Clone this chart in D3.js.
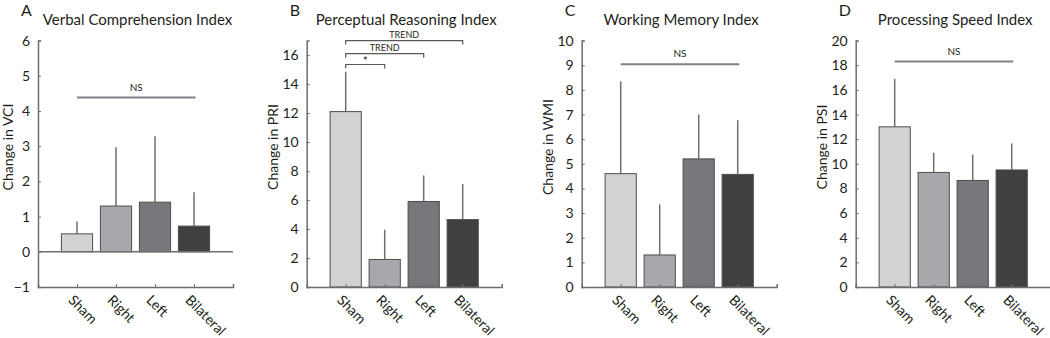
<!DOCTYPE html>
<html>
<head>
<meta charset="utf-8">
<script src="https://cdn.jsdelivr.net/npm/d3@7"></script>
<style>
  body { margin: 0; background: #fff; }
  text { font-family: Lato, "Open Sans", sans-serif; fill: #231f20; }
</style>
</head>
<body>
<div id="chart"></div>
<script>
// groups shared by all four panels
var groups = ["Sham", "Right", "Left", "Bilateral"];
var barColors = ["#d1d2d4", "#a7a8ab", "#77787b", "#404041"];

// means and tops of the error bars
var vciMean = [0.51, 1.30, 1.41, 0.73];
var vciTop  = [0.86, 2.97, 3.28, 1.69];
var priMean = [12.1, 1.9, 5.9, 4.65];
var priTop  = [14.85, 3.95, 7.7, 7.1];
var wmiMean = [4.6, 1.3, 5.2, 4.57];
var wmiTop  = [8.35, 3.35, 7.0, 6.77];
var psiMean = [13.0, 9.3, 8.65, 9.5];
var psiTop  = [16.9, 10.9, 10.75, 11.65];

// tick values
var vciTicks = [-1, 0, 1, 2, 3, 4, 5, 6];
var priTicks = [0, 2, 4, 6, 8, 10, 12, 14, 16];
var wmiTicks = [0, 1, 2, 3, 4, 5, 6, 7, 8, 9, 10];
var psiTicks = [0, 2, 4, 6, 8, 10, 12, 14, 16, 18, 20];

// significance marks: [from group, to group, level, label]
var priBrackets = [[1, 2, 15.35, "*"], [1, 3, 16.1, "TREND"], [1, 4, 17.0, "TREND"]];
var vciNS = [1, 4.04, 4.38];
var wmiNS = [1, 4.04, 9.04];
var psiNS = [1, 4.04, 18.3];

var panels = [
  {letter: "A", title: "Verbal Comprehension Index", ylab: "Change in VCI", left: 38, domain: [-1, 6], ticks: vciTicks, mean: vciMean, top: vciTop, ns: vciNS},
  {letter: "B", title: "Perceptual Reasoning Index", ylab: "Change in PRI", left: 306.7, domain: [0, 17], ticks: priTicks, mean: priMean, top: priTop, brackets: priBrackets},
  {letter: "C", title: "Working Memory Index", ylab: "Change in WMI", left: 581.7, domain: [0, 10], ticks: wmiTicks, mean: wmiMean, top: wmiTop, ns: wmiNS},
  {letter: "D", title: "Processing Speed Index", ylab: "Change in PSI", left: 855.7, domain: [0, 20], ticks: psiTicks, mean: psiMean, top: psiTop, ns: psiNS}
];

var W = 1050, H = 338;
var plotW = 195, yTop = 40.6, yBot = 287;
var axisCol = "#6d6e71";

var svg = d3.select("#chart").append("svg")
    .attr("width", W)
    .attr("height", H);

svg.append("rect").attr("width", W).attr("height", H).attr("fill", "#fff");

panels.forEach(function(p){
    var g = svg.append("g").attr("transform", "translate(" + p.left + ",0)");

    var xScale = d3.scaleLinear().domain([0, 5]).range([0, plotW]);
    var yScale = d3.scaleLinear().domain(p.domain).range([yBot, yTop]);
    var bw = xScale(0.8) - xScale(0);

    // bars
    g.selectAll(".bar")
        .data(p.mean)
        .enter().append("rect")
        .attr("x", function(d, i){ return xScale(i + 1) - bw / 2; })
        .attr("y", function(d){ return yScale(Math.max(d, 0)); })
        .attr("width", bw)
        .attr("height", function(d){ return Math.abs(yScale(d) - yScale(0)); })
        .attr("fill", function(d, i){ return barColors[i]; })
        .attr("stroke", "#4d4d4f")
        .attr("stroke-width", 1);

    // error bars
    g.selectAll(".err")
        .data(p.top)
        .enter().append("line")
        .attr("x1", function(d, i){ return xScale(i + 1); })
        .attr("x2", function(d, i){ return xScale(i + 1); })
        .attr("y1", function(d, i){ return yScale(p.mean[i]); })
        .attr("y2", function(d){ return yScale(d); })
        .attr("stroke", axisCol)
        .attr("stroke-width", 1.5);

    // zero line when the axis starts below zero
    if (p.domain[0] < 0) {
        g.append("line")
            .attr("x1", 0).attr("x2", plotW)
            .attr("y1", yScale(0)).attr("y2", yScale(0))
            .attr("stroke", axisCol).attr("stroke-width", 1.5);
    }

    // y axis
    var yAxis = d3.axisLeft(yScale)
        .tickValues(p.ticks)
        .tickSize(-3)
        .tickPadding(8)
        .tickFormat(function(d){ return d < 0 ? "\u2212" + Math.abs(d) : d; });
    var ya = g.append("g").call(yAxis);
    ya.select(".domain").attr("stroke", axisCol).attr("stroke-width", 1.5);
    ya.selectAll(".tick line").attr("stroke", axisCol).attr("stroke-width", 1);
    ya.selectAll(".tick text").style("font-size", "14px").attr("fill", "#231f20");

    // x axis
    var xAxis = d3.axisBottom(xScale)
        .tickValues([1, 2, 3, 4])
        .tickSize(-3)
        .tickFormat(function(d){ return groups[d - 1]; });
    var xa = g.append("g").attr("transform", "translate(0," + yBot + ")").call(xAxis);
    xa.select(".domain").attr("stroke", axisCol).attr("stroke-width", 1.5);
    xa.selectAll(".tick line").attr("stroke", axisCol).attr("stroke-width", 1);
    xa.selectAll(".tick text")
        .style("font-size", "14px")
        .attr("fill", "#231f20")
        .attr("text-anchor", "start")
        .attr("dy", null)
        .attr("y", 0)
        .attr("transform", "translate(-10,14) rotate(45)");

    // title and panel letter
    g.append("text")
        .attr("x", plotW / 2 + 2)
        .attr("y", 25)
        .attr("text-anchor", "middle")
        .style("font-size", "15px")
        .text(p.title);

    g.append("text")
        .attr("x", -17)
        .attr("y", 16)
        .style("font-size", "16px")
        .text(p.letter);

    // y label
    g.append("text")
        .attr("transform", "translate(" + (p.ticks[p.ticks.length - 1] >= 10 ? -29 : -25) + ",147) rotate(-90)")
        .attr("text-anchor", "middle")
        .style("font-size", "14px")
        .text(p.ylab);

    // NS line
    if (p.ns) {
        g.append("line")
            .attr("x1", xScale(p.ns[0])).attr("x2", xScale(p.ns[1]))
            .attr("y1", yScale(p.ns[2])).attr("y2", yScale(p.ns[2]))
            .attr("stroke", "#808285").attr("stroke-width", 2);
        g.append("text")
            .attr("x", (xScale(p.ns[0]) + xScale(p.ns[1])) / 2)
            .attr("y", yScale(p.ns[2]) - 7)
            .attr("text-anchor", "middle")
            .style("font-size", "10px")
            .text("NS");
    }

    // brackets
    if (p.brackets) {
        p.brackets.forEach(function(b){
            var x1 = xScale(b[0]), x2 = xScale(b[1]), y = yScale(b[2]);
            g.append("path")
                .attr("d", "M" + x1 + "," + (y + 4) + "V" + y + "H" + x2 + "V" + (y + 4))
                .attr("fill", "none")
                .attr("stroke", "#58595b")
                .attr("stroke-width", 1.2);
            g.append("text")
                .attr("x", (x1 + x2) / 2)
                .attr("y", y - (b[3] == "*" ? 0 : 2.5))
                .attr("text-anchor", "middle")
                .style("font-size", b[3] == "*" ? "12px" : "9px")
                .text(b[3]);
        });
    }
});
</script>
</body>
</html>
